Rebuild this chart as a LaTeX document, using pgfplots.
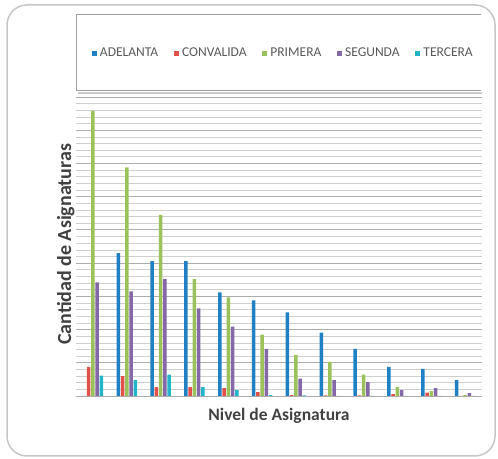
\documentclass[border=0pt]{standalone}
\usepackage{pgfplots}
\pgfplotsset{compat=1.18}
\usepackage{fontspec}
\setmainfont{Carlito}

\definecolor{cAdel}{HTML}{1F80C4}
\definecolor{cConv}{HTML}{E2504A}
\definecolor{cPrim}{HTML}{9BC15A}
\definecolor{cSeg}{HTML}{8468A8}
\definecolor{cTer}{HTML}{22B4C8}
\definecolor{cText}{HTML}{595959}
\definecolor{cLabel}{HTML}{404040}

\begin{document}
\begin{tikzpicture}[x=1bp,y=1bp]
\useasboundingbox (0,0) rectangle (498,459);
% rounded outer frame
\draw[gray!45, line width=1.5bp, rounded corners=20bp] (7,3) rectangle (495,454);
% legend panel (open on the right)
\draw[gray!40, line width=2bp] (78,366) -- (482,366);
\draw[gray!75, line width=1bp] (481,444) -- (76,444) -- (76,368) -- (481,368);

\begin{axis}[
  at={(76bp,63bp)}, anchor=south west,
  scale only axis, width=406bp, height=299bp,
  xmin=0.5, xmax=12.5, ymin=0, ymax=90,
  ytick distance=10, minor y tick num=4,
  ymajorgrids, yminorgrids,
  major grid style={gray!65, line width=0.8bp},
  minor grid style={gray!38, line width=0.6bp},
  xtick=\empty, yticklabels={},
  axis line style={draw=none},
  major tick length=0pt, minor tick length=0pt,
  ybar=0.75bp, bar width=3.5bp,
  every axis plot post/.append style={
    legend image code/.code={\fill[##1, draw=none] (0bp,-2.5bp) rectangle (5bp,2.5bp);}},
  legend columns=5,
  legend style={at={(axis description cs:0.0394,1.147)}, anchor=west,
    draw=none, fill=none, inner sep=0pt, outer sep=0pt,
    font=\fontsize{13.5bp}{15bp}\selectfont\color{cText},
    nodes={inner sep=0pt},
    /tikz/every odd column/.append style={column sep=3bp},
    /tikz/every even column/.append style={column sep=15.8bp}},
]
\addplot[fill=cAdel, draw=none] coordinates {
  (1,0) (2,43) (3,40.6) (4,40.6) (5,31.2) (6,28.8)
  (7,25.2) (8,19.1) (9,14.2) (10,8.8) (11,8.2) (12,4.8)};
\addplot[fill=cConv, draw=none] coordinates {
  (1,8.8) (2,6) (3,2.7) (4,2.7) (5,2.4) (6,1.2)
  (7,0.3) (8,0.2) (9,0.2) (10,0.6) (11,1) (12,0)};
\addplot[fill=cPrim, draw=none] coordinates {
  (1,85.8) (2,68.8) (3,54.5) (4,35.2) (5,29.7) (6,18.5)
  (7,12.4) (8,10.3) (9,6.4) (10,2.7) (11,1.5) (12,0.3)};
\addplot[fill=cSeg, draw=none] coordinates {
  (1,34.2) (2,31.5) (3,35.2) (4,26.4) (5,20.9) (6,14.2)
  (7,5.2) (8,4.8) (9,4.2) (10,1.8) (11,2.4) (12,0.9)};
\addplot[fill=cTer, draw=none] coordinates {
  (1,6.1) (2,4.8) (3,6.4) (4,2.7) (5,1.8) (6,0.3)
  (7,0.2) (8,0) (9,0) (10,0) (11,0) (12,0)};
\legend{ADELANTA, CONVALIDA, PRIMERA, SEGUNDA, TERCERA}
\end{axis}

% axis titles
\node[anchor=base, font=\fontsize{17.5bp}{20bp}\selectfont\bfseries, text=cLabel]
  at (279,38) {Nivel de Asignatura};
\node[anchor=base, rotate=90, font=\fontsize{20bp}{22bp}\selectfont\bfseries, text=cLabel]
  at (71,214.5) {Cantidad de Asignaturas};
\end{tikzpicture}
\end{document}
